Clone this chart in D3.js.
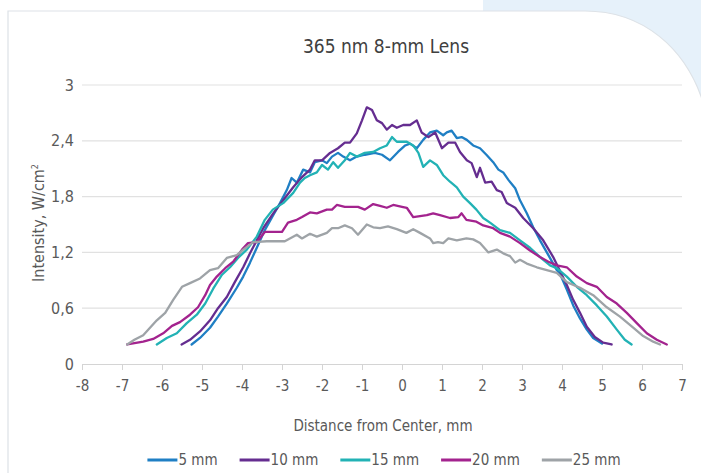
<!DOCTYPE html>
<html>
<head>
<meta charset="utf-8">
<script src="https://cdn.jsdelivr.net/npm/d3@7"></script>
<style>
  body { margin: 0; background: #fff; }
  text { font-family: "DejaVu Sans", sans-serif; font-stretch: condensed; }
</style>
</head>
<body>
<div class="container"></div>
<script>
var w = 701;
var h = 473;

// data: [distance mm, intensity W/cm2]
var mm5 = [[-5.26,0.21],[-5.05,0.28],[-4.8,0.39],[-4.6,0.51],[-4.38,0.65],[-4.13,0.82],[-3.97,0.94],[-3.8,1.09],[-3.63,1.25],[-3.43,1.44],[-3.22,1.6],[-3.05,1.73],[-2.88,1.87],[-2.76,2.0],[-2.63,1.95],[-2.47,2.09],[-2.3,2.06],[-2.18,2.17],[-2.0,2.19],[-1.88,2.16],[-1.75,2.23],[-1.6,2.27],[-1.47,2.23],[-1.3,2.19],[-1.13,2.23],[-0.93,2.25],[-0.68,2.27],[-0.5,2.25],[-0.3,2.19],[-0.1,2.28],[0.08,2.35],[0.2,2.37],[0.37,2.32],[0.53,2.41],[0.7,2.49],[0.87,2.51],[1.03,2.46],[1.12,2.49],[1.24,2.51],[1.37,2.43],[1.49,2.44],[1.62,2.41],[1.78,2.35],[1.95,2.32],[2.11,2.25],[2.28,2.17],[2.41,2.09],[2.53,2.06],[2.66,1.98],[2.83,1.89],[2.95,1.76],[3.12,1.62],[3.28,1.47],[3.45,1.33],[3.66,1.17],[3.87,1.01],[3.95,0.97],[4.12,0.8],[4.28,0.63],[4.45,0.49],[4.62,0.37],[4.78,0.28],[5.0,0.22]];
var mm10 = [[-5.51,0.21],[-5.3,0.26],[-5.05,0.35],[-4.8,0.47],[-4.6,0.6],[-4.38,0.72],[-4.18,0.88],[-3.97,1.04],[-3.8,1.19],[-3.63,1.33],[-3.47,1.46],[-3.22,1.62],[-2.97,1.76],[-2.72,1.9],[-2.5,2.01],[-2.3,2.09],[-2.18,2.19],[-2.0,2.19],[-1.8,2.27],[-1.6,2.32],[-1.43,2.38],[-1.3,2.38],[-1.13,2.48],[-1.0,2.62],[-0.88,2.76],[-0.75,2.73],[-0.63,2.62],[-0.5,2.59],[-0.38,2.52],[-0.25,2.57],[-0.13,2.54],[0.03,2.57],[0.2,2.57],[0.37,2.62],[0.49,2.49],[0.66,2.44],[0.83,2.49],[1.0,2.32],[1.16,2.38],[1.33,2.38],[1.45,2.28],[1.62,2.19],[1.74,2.16],[1.87,2.01],[1.95,2.11],[2.08,1.95],[2.24,1.96],[2.37,1.87],[2.49,1.85],[2.62,1.73],[2.83,1.68],[3.03,1.57],[3.28,1.46],[3.53,1.33],[3.78,1.15],[3.95,1.0],[4.12,0.85],[4.28,0.69],[4.45,0.55],[4.62,0.4],[4.82,0.29],[5.03,0.23],[5.24,0.21]];
var mm15 = [[-6.13,0.21],[-5.88,0.28],[-5.63,0.33],[-5.38,0.44],[-5.13,0.53],[-4.92,0.65],[-4.72,0.81],[-4.5,0.96],[-4.3,1.04],[-4.1,1.14],[-3.88,1.23],[-3.63,1.37],[-3.43,1.55],[-3.23,1.66],[-2.97,1.73],[-2.72,1.84],[-2.55,1.95],[-2.43,2.0],[-2.3,2.03],[-2.13,2.06],[-2.0,2.14],[-1.85,2.09],[-1.72,2.17],[-1.6,2.11],[-1.43,2.19],[-1.3,2.27],[-1.13,2.23],[-0.93,2.27],[-0.72,2.28],[-0.55,2.32],[-0.38,2.35],[-0.25,2.44],[-0.13,2.39],[0.12,2.39],[0.28,2.35],[0.41,2.27],[0.53,2.12],[0.7,2.19],[0.87,2.14],[1.03,2.03],[1.2,1.96],[1.37,1.9],[1.53,1.8],[1.7,1.73],[1.86,1.66],[2.03,1.57],[2.2,1.52],[2.45,1.44],[2.7,1.41],[2.95,1.33],[3.2,1.25],[3.45,1.15],[3.7,1.06],[3.87,1.03],[4.12,0.94],[4.37,0.83],[4.62,0.74],[4.87,0.63],[5.12,0.51],[5.37,0.37],[5.57,0.26],[5.74,0.21]];
var mm20 = [[-6.87,0.21],[-6.47,0.24],[-6.22,0.27],[-5.97,0.33],[-5.75,0.41],[-5.55,0.45],[-5.3,0.53],[-5.1,0.61],[-4.92,0.74],[-4.8,0.85],[-4.63,0.94],[-4.42,1.03],[-4.22,1.1],[-4.0,1.23],[-3.85,1.3],[-3.63,1.31],[-3.43,1.42],[-3.0,1.42],[-2.85,1.52],[-2.63,1.55],[-2.5,1.58],[-2.3,1.63],[-2.13,1.62],[-1.88,1.66],[-1.75,1.66],[-1.63,1.71],[-1.43,1.69],[-1.1,1.69],[-0.93,1.66],[-0.72,1.72],[-0.55,1.7],[-0.38,1.68],[-0.22,1.71],[0.0,1.69],[0.12,1.68],[0.28,1.58],[0.62,1.6],[0.78,1.62],[0.95,1.6],[1.2,1.57],[1.41,1.58],[1.49,1.62],[1.61,1.55],[1.86,1.53],[2.03,1.49],[2.28,1.46],[2.45,1.41],[2.7,1.37],[2.95,1.3],[3.2,1.22],[3.45,1.15],[3.66,1.1],[3.87,1.06],[4.12,1.04],[4.37,0.94],[4.62,0.87],[4.87,0.83],[5.12,0.72],[5.37,0.65],[5.62,0.55],[5.87,0.44],[6.12,0.33],[6.37,0.26],[6.62,0.21]];
var mm25 = [[-6.87,0.21],[-6.69,0.26],[-6.47,0.31],[-6.3,0.39],[-6.13,0.47],[-5.92,0.55],[-5.72,0.69],[-5.5,0.83],[-5.3,0.87],[-5.05,0.92],[-4.8,1.01],[-4.6,1.03],[-4.38,1.14],[-4.13,1.17],[-3.97,1.23],[-3.72,1.31],[-3.38,1.32],[-2.93,1.32],[-2.63,1.39],[-2.5,1.35],[-2.3,1.4],[-2.13,1.37],[-1.88,1.41],[-1.75,1.46],[-1.6,1.46],[-1.43,1.49],[-1.25,1.46],[-1.1,1.39],[-0.88,1.5],[-0.72,1.47],[-0.55,1.46],[-0.35,1.48],[-0.13,1.45],[0.11,1.41],[0.28,1.45],[0.45,1.41],[0.7,1.35],[0.78,1.3],[0.9,1.31],[1.03,1.3],[1.16,1.35],[1.37,1.33],[1.61,1.35],[1.78,1.34],[1.95,1.3],[2.16,1.2],[2.37,1.23],[2.53,1.19],[2.7,1.16],[2.83,1.09],[2.95,1.12],[3.12,1.08],[3.37,1.04],[3.62,1.01],[3.87,0.98],[4.12,0.88],[4.45,0.82],[4.78,0.74],[5.12,0.61],[5.45,0.51],[5.78,0.39],[6.03,0.3],[6.28,0.24],[6.45,0.21]];

var seriesNames = ["5 mm", "10 mm", "15 mm", "20 mm", "25 mm"];
var seriesData = [mm5, mm10, mm15, mm20, mm25];
var seriesColors = ["#1f7fc4", "#652d90", "#22b2b5", "#a3238e", "#9ea3a7"];
var xTicks = [-8, -7, -6, -5, -4, -3, -2, -1, 0, 1, 2, 3, 4, 5, 6, 7];
var yTicks = [0, 0.6, 1.2, 1.8, 2.4, 3];

var svg = d3.select(".container").append("svg").attr("width", w).attr("height", h);

// page background: pale blue corner behind the white card
svg.append("rect").attr("x", 483).attr("y", 0).attr("width", w - 483).attr("height", 140).attr("fill", "#e6f1fa");
svg.append("path")
  .attr("d", "M8,480 L8,11 L585,11 C640,11 688,45 706,112 L706,480 Z")
  .attr("fill", "#fff")
  .attr("stroke", "#dde2e7")
  .attr("stroke-width", 1.2);

var x = d3.scaleLinear().domain([-8, 7]).range([82, 682]);
var y = d3.scaleLinear().domain([0, 3]).range([364, 85]);

// grid
svg.append("g").selectAll("line")
  .data(yTicks.slice(1))
  .enter().append("line")
  .attr("x1", 82).attr("x2", 682)
  .attr("y1", d => y(d)).attr("y2", d => y(d))
  .attr("stroke", "#e1e1e1").attr("stroke-width", 1.2);

var fmt = d => String(d).replace(".", ",");

var yAxis = svg.append("g")
  .attr("transform", "translate(82,0)")
  .call(d3.axisLeft(y).tickValues(yTicks).tickFormat(fmt).tickSize(0).tickPadding(8));
yAxis.select(".domain").remove();
yAxis.selectAll("text").attr("fill", "#5a5a5a").style("font-size", "16px")
  .style("font-family", "'DejaVu Sans', sans-serif").style("font-stretch", "condensed");

var xAxis = svg.append("g")
  .attr("transform", "translate(0,364)")
  .call(d3.axisBottom(x).tickValues(xTicks).tickFormat(fmt).tickSize(6).tickSizeOuter(0).tickPadding(10));
xAxis.select(".domain").attr("stroke", "#d4d4d4").attr("stroke-width", 1.2);
xAxis.selectAll(".tick line").attr("stroke", "#d4d4d4");
xAxis.selectAll("text").attr("fill", "#5a5a5a").style("font-size", "15px")
  .style("font-family", "'DejaVu Sans', sans-serif").style("font-stretch", "condensed");

// lines
var line = d3.line().x(d => x(d[0])).y(d => y(d[1]));
svg.append("g").selectAll("path")
  .data(seriesData)
  .enter().append("path")
  .attr("d", line)
  .attr("fill", "none")
  .attr("stroke", (d, i) => seriesColors[i])
  .attr("stroke-width", 2.3)
  .attr("stroke-linejoin", "round")
  .attr("stroke-linecap", "round");

// titles
svg.append("text")
  .attr("x", 386).attr("y", 53)
  .attr("text-anchor", "middle")
  .attr("fill", "#404040")
  .style("font-size", "19px")
  .text("365 nm 8-mm Lens");

svg.append("text")
  .attr("x", 383).attr("y", 431)
  .attr("text-anchor", "middle")
  .attr("fill", "#595959")
  .style("font-size", "15px")
  .text("Distance from Center, mm");

var yt = svg.append("text")
  .attr("transform", "translate(44,223) rotate(-90)")
  .attr("text-anchor", "middle")
  .attr("fill", "#595959")
  .style("font-size", "16px");
yt.append("tspan").text("Intensity, W/cm");
yt.append("tspan").attr("dy", -6).style("font-size", "9px").text("2");

// legend
var legend = svg.append("g").attr("transform", "translate(0,460)");
var lx = 0;
var items = legend.selectAll("g")
  .data(seriesNames)
  .enter().append("g");
items.append("line")
  .attr("x1", 0).attr("x2", 30).attr("y1", 0).attr("y2", 0)
  .attr("stroke", (d, i) => seriesColors[i]).attr("stroke-width", 3);
items.append("text")
  .attr("x", 31).attr("y", 5)
  .attr("fill", "#595959")
  .style("font-size", "15px")
  .text(d => d);
items.each(function() {
  var g = d3.select(this);
  g.attr("transform", "translate(" + lx + ",0)");
  lx += 31 + g.select("text").node().getComputedTextLength() + 22;
});
legend.attr("transform", "translate(" + (384 - (lx - 22) / 2) + ",460)");
</script>
</body>
</html>
